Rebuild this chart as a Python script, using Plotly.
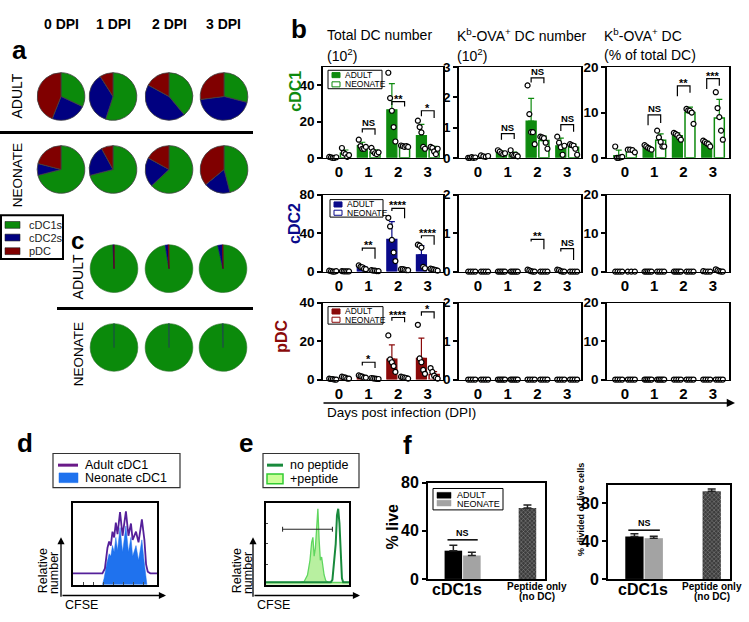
import plotly.graph_objects as go

W, H = 749, 622
FONT = "Liberation Sans, Arial, Helvetica, sans-serif"
GREEN = "#0e8a0e"
NAVY = "#0a0a8a"
MAROON = "#8a0a0a"

# ------------------------------------------------------------------ data
DPI = [0, 1, 2, 3]
DPI_HEADERS = ["0 DPI", "1 DPI", "2 DPI", "3 DPI"]
SUBSETS = ["cDC1s", "cDC2s", "pDC"]
SUBSET_COLORS = ["#0b8a0b", "#000080", "#800000"]

# panel a: share (%) of total DC  [cDC1s, cDC2s, pDC]
pie_a_adult = [[32, 24, 44], [55, 36, 9], [39, 44, 17], [29, 44, 27]]
pie_a_neonate = [[71, 8, 21], [71, 21, 8], [63, 20, 17], [46, 18, 36]]
# panel c: share (%) of Kb-OVA+ DC, 1-3 DPI
pie_c_adult = [[99.3, 0.7, 0.0], [97.5, 2.0, 0.5], [96.5, 3.2, 0.3]]
pie_c_neonate = [[100, 0, 0], [99.8, 0.2, 0], [99.5, 0.5, 0]]

# panel b -- cDC1
cdc1_total_adult = [0.3, 6.8, 26.5, 12.2]
cdc1_total_adult_sd = [0.3, 1.8, 14.5, 6.3]
cdc1_total_adult_pts = [[0.5, 0.2, 0, 0, 0.3], [10, 6.5, 5, 5, 6], [47, 33, 26, 17, 9], [20.5, 17, 14, 6, 5]]
cdc1_total_neo = [2.5, 3.2, 6.3, 4.5]
cdc1_total_neo_sd = [1.8, 1.2, 0.8, 1.8]
cdc1_total_neo_pts = [[5.4, 2.7, 2, 0.5, 1.5], [5.5, 3.5, 2.5, 2, 3], [6.8, 6.5, 6, 6.5, 6], [6, 5.5, 3.5, 2, 5]]
cdc1_total_sig = [[1, 16, 14, 12.7, "NS"], [2, 31, 29.2, 28.3, "**"], [3, 26, 23, 22, "*"]]

cdc1_kb_adult = [0.01, 0.17, 1.22, 0.40]
cdc1_kb_adult_sd = [0.01, 0.05, 0.75, 0.25]
cdc1_kb_adult_pts = [[0, 0, 0.02, 0, 0.01], [0.25, 0.2, 0.15, 0.12, 0.15], [2.4, 1.45, 0.85, 0.85, 0.45], [0.7, 0.5, 0.35, 0.1, 0.4]]
cdc1_kb_neo = [0.05, 0.12, 0.57, 0.35]
cdc1_kb_neo_sd = [0.03, 0.07, 0.15, 0.1]
cdc1_kb_neo_pts = [[0.08, 0.05, 0.03, 0.06], [0.25, 0.1, 0.08, 0.1, 0.05], [0.7, 0.68, 0.65, 0.5, 0.3], [0.45, 0.42, 0.4, 0.3, 0.1]]
cdc1_kb_sig = [[1, 0.8, 0.6, 0.62, "NS"], [2, 2.65, 2.5, 2.47, "NS"], [3, 1.1, 0.89, 0.86, "NS"]]

cdc1_pct_adult = [0.5, 2.2, 4.9, 3.2]
cdc1_pct_adult_sd = [1.2, 0.4, 0.6, 0.5]
cdc1_pct_adult_pts = [[2.5, 0, 0, 0.1, 0.2], [2.8, 2.5, 2.2, 2.0, 1.8], [5.5, 5.3, 5.0, 4.5, 4.0], [3.8, 3.5, 3.2, 3.0, 2.5]]
cdc1_pct_neo = [1.6, 3.9, 10.0, 8.8]
cdc1_pct_neo_sd = [0.3, 1.4, 1.2, 4.1]
cdc1_pct_neo_pts = [[1.8, 1.8, 1.7, 1.2], [6.0, 4.5, 3.5, 2.5, 2.5], [10.8, 10.5, 10.4, 10.0, 7.5], [14.5, 11, 9, 6, 4]]
cdc1_pct_sig = [[1, 9.5, 7.2, 7.7, "NS"], [2, 15.9, 13.6, 14.4, "**"], [3, 17.5, 15.2, 15.9, "***"]]

# panel b -- cDC2
cdc2_total_adult = [0.5, 4.4, 33.6, 17.5]
cdc2_total_adult_sd = [0.4, 1.5, 18.5, 9.5]
cdc2_total_adult_pts = [[1, 0.5, 0, 0, 0.5], [6.5, 5, 4.5, 3, 2.5], [56, 47, 33, 20, 11], [28, 27, 25, 5, 3.5]]
cdc2_total_neo = [0.3, 1.0, 2.0, 2.0]
cdc2_total_neo_sd = [0.2, 0.5, 0.5, 0.8]
cdc2_total_neo_pts = [[0.5, 0.3, 0.2, 0.2, 0.2], [1.5, 1, 1, 0.5, 0.5], [2.5, 2.5, 2, 1.5, 1.5], [3, 2.5, 2, 1.5, 1]]
cdc2_total_sig = [[1, 24.5, 21.8, 13.4, "**"], [2, 65.9, 63.2, 55.5, "****"], [3, 37.3, 34.6, 27.9, "****"]]

cdc2_kb_adult = [0.0, 0.0, 0.02, 0.02]
cdc2_kb_adult_sd = [0, 0, 0, 0]
cdc2_kb_adult_pts = [[0, 0, 0, 0], [0, 0, 0, 0, 0], [0.05, 0.03, 0.01, 0, 0], [0.05, 0.04, 0.01, 0, 0]]
cdc2_kb_neo = [0, 0, 0, 0]
cdc2_kb_neo_sd = [0, 0, 0, 0]
cdc2_kb_neo_pts = [[0, 0, 0, 0], [0, 0, 0, 0, 0], [0, 0, 0, 0], [0, 0, 0, 0]]
cdc2_kb_sig = [[2, 0.84, 0.78, 0.58, "**"], [3, 0.6, 0.52, 0.3, "NS"]]

cdc2_pct_adult = [0, 0, 0, 0]
cdc2_pct_adult_sd = [0, 0, 0, 0]
cdc2_pct_adult_pts = [[0, 0, 0, 0], [0, 0, 0, 0, 0], [0, 0, 0, 0, 0], [0.1, 0, 0, 0]]
cdc2_pct_neo = [0, 0, 0, 0.15]
cdc2_pct_neo_sd = [0, 0, 0, 0]
cdc2_pct_neo_pts = [[0, 0, 0], [0, 0, 0, 0], [0, 0, 0, 0], [0.6, 0.3, 0.1, 0, 0]]
cdc2_pct_sig = []

# panel b -- pDC
pdc_total_adult = [0.3, 1.5, 10.6, 11.0]
pdc_total_adult_sd = [0.3, 0.5, 7.5, 10.6]
pdc_total_adult_pts = [[0.5, 0.3, 0.2, 0, 0], [2.2, 1.8, 1.5, 1, 1], [23, 10.5, 9, 7, 4], [28.5, 11, 9, 5, 3]]
pdc_total_neo = [1.0, 0.5, 1.0, 2.6]
pdc_total_neo_sd = [0.4, 0.2, 0.3, 1.5]
pdc_total_neo_pts = [[1.5, 1.2, 1, 0.5, 0.5], [0.8, 0.6, 0.5, 0.4, 0.3], [1.5, 1.2, 1, 0.8, 0.5], [6, 4, 2, 1, 0.5]]
pdc_total_sig = [[1, 9.0, 7.3, 6.0, "*"], [2, 32.3, 30.6, 29.8, "****"], [3, 35.2, 33.2, 31.8, "*"]]

pdc_kb_adult = [0, 0, 0, 0]
pdc_kb_neo = [0, 0, 0, 0]
pdc_kb_adult_pts = [[0, 0, 0, 0], [0, 0, 0, 0, 0], [0, 0, 0, 0], [0, 0, 0, 0]]
pdc_kb_neo_pts = [[0, 0, 0, 0], [0, 0, 0, 0, 0], [0, 0, 0, 0], [0, 0, 0, 0]]
pdc_pct_adult = [0, 0, 0, 0]
pdc_pct_neo = [0, 0, 0, 0]
pdc_pct_adult_pts = [[0, 0, 0, 0], [0, 0, 0, 0, 0], [0, 0, 0, 0], [0, 0, 0, 0]]
pdc_pct_neo_pts = [[0, 0, 0, 0], [0, 0, 0, 0, 0], [0, 0, 0, 0], [0, 0, 0, 0]]
zero_sd = [0, 0, 0, 0]

# panel d: CFSE histograms (x and y in % of the plot frame)
d_adult_x = [0, 35, 38, 41, 43, 45, 47, 49, 51, 53, 56, 59, 63, 66, 69, 71, 75, 78, 82, 85, 87, 89, 92, 100]
d_adult_y = [14, 14, 20, 45, 53, 48, 65, 58, 76, 62, 89, 60, 90, 60, 75, 55, 65, 52, 80, 55, 25, 16, 14, 14]
d_neo_x = [35, 37, 40, 43, 45, 47, 49, 51, 53, 56, 59, 63, 66, 69, 71, 75, 78, 82, 84, 86, 88]
d_neo_y = [0, 8, 25, 38, 35, 48, 40, 58, 42, 70, 40, 72, 40, 58, 35, 48, 30, 55, 35, 20, 0]

# panel e
e_nopep_x = [0, 78, 80, 82, 84, 85.5, 87, 88.5, 90, 91.5, 93, 100]
e_nopep_y = [3, 3, 6, 25, 50, 85, 93, 75, 35, 8, 3, 3]
e_pep_x = [0, 40, 46, 50, 53, 55, 56.5, 58, 59.5, 61, 62.5, 64, 65.5, 67, 68.5, 70, 72, 75, 100]
e_pep_y = [3, 3, 4, 12, 30, 52, 58, 35, 45, 75, 93, 55, 30, 34, 22, 12, 5, 3, 3]
e_gate = [20, 80]
e_gate_level = 68

# panel f
f_live = [23.5, 19.5, 59.0]
f_live_sd = [4.5, 2.7, 2.5]
f_divided = [45.0, 43.2, 93.0]
f_divided_sd = [2.8, 2.0, 2.3]

# ------------------------------------------------------------------ helpers
fig = go.Figure()
layout = {}
annotations = []
shapes = []


def fx(x):
    return x / W


def fy(y):
    return 1 - y / H


axis_count = [0]


def new_axes(box, xr, yr, xkw=None, ykw=None):
    axis_count[0] += 1
    n = axis_count[0]
    s = "" if n == 1 else str(n)
    x0, y0, x1, y1 = box
    xa = dict(domain=[fx(x0), fx(x1)], range=xr, anchor="y" + s, showgrid=False,
              zeroline=False, fixedrange=True)
    ya = dict(domain=[fy(y1), fy(y0)], range=yr, anchor="x" + s, showgrid=False,
              zeroline=False, fixedrange=True)
    xa.update(xkw or {})
    ya.update(ykw or {})
    layout["xaxis" + s] = xa
    layout["yaxis" + s] = ya
    return "x" + s, "y" + s


def text(x, y, s, size, color="black", angle=0, xanchor="center", yanchor="middle"):
    annotations.append(dict(x=fx(x), y=fy(y), xref="paper", yref="paper", text=s,
                            showarrow=False, textangle=angle, xanchor=xanchor,
                            yanchor=yanchor, font=dict(family=FONT, size=size, color=color)))


def rect(x0, y0, x1, y1, fill="rgba(0,0,0,0)", line="black", lw=1.0):
    shapes.append(dict(type="rect", xref="paper", yref="paper", x0=fx(x0), x1=fx(x1),
                       y0=fy(y1), y1=fy(y0), fillcolor=fill,
                       line=dict(color=line, width=lw), layer="above"))


def seg(x0, y0, x1, y1, lw=1.0, color="black"):
    shapes.append(dict(type="line", xref="paper", yref="paper", x0=fx(x0), x1=fx(x1),
                       y0=fy(y0), y1=fy(y1), line=dict(color=color, width=lw), layer="above"))


def arrow(xh, yh, xt, yt, lw=1.5):
    annotations.append(dict(x=fx(xh), y=fy(yh), xref="paper", yref="paper",
                            ax=xt - xh, ay=yt - yh, axref="pixel", ayref="pixel",
                            showarrow=True, arrowhead=2, arrowsize=1.1, arrowwidth=lw,
                            arrowcolor="black", text=""))


# ------------------------------------------------------------------ panel a / c pies
def pie(values, cx, cy, r=24.5, line_colors=None, lw=0.8):
    fig.add_trace(go.Pie(values=values, labels=SUBSETS, sort=False, direction="clockwise",
                         rotation=0, textinfo="none", hoverinfo="label+percent",
                         showlegend=False,
                         marker=dict(colors=SUBSET_COLORS,
                                     line=dict(color=line_colors or "#404040", width=lw)),
                         domain=dict(x=[fx(cx - r), fx(cx + r)], y=[fy(cy + r), fy(cy - r)])))


a_cx = [61, 113, 169, 224]
for i in range(4):
    pie(pie_a_adult[i], a_cx[i], 91)
    pie(pie_a_neonate[i], a_cx[i], 166)
    text(a_cx[i], 16, "<b>%s</b>" % DPI_HEADERS[i], 14)
c_cx = [114, 169, 223]
C_LINES = ["#2f6f2f", "#000080", "#800000"]
for i in range(3):
    pie(pie_c_adult[i], c_cx[i], 268, line_colors=C_LINES, lw=0.6)
    pie(pie_c_neonate[i], c_cx[i], 349, line_colors=["#2f6f2f", "#1a5a3a", "#1a5a3a"], lw=0.6)

text(19, 43, "<b>a</b>", 26)
text(17, 91, "ADULT", 14, angle=-90)
text(17, 172, "NEONATE", 13.5, angle=-90)
seg(0, 128, 253, 128, lw=3)
text(77, 239, "<b>c</b>", 24)
text(78, 277, "ADULT", 14, angle=-90)
text(78, 356, "NEONATE", 13.5, angle=-90)
seg(57, 309, 253, 309, lw=3)

# pie legend
rect(1, 213, 63, 258, lw=2)
for k, yy in enumerate([223, 236, 250]):
    rect(5, yy - 3.5, 20, yy + 3.5, fill=SUBSET_COLORS[k], line="#202020", lw=0.6)
    text(27, yy, SUBSETS[k], 11, color="#222", xanchor="left")

# ------------------------------------------------------------------ panel b
COL_X = [(323, 443), (459, 581), (607, 729)]
COL_XR = [[-0.54, 3.52], [-0.64, 3.47], [-0.61, 3.55]]
ROW_Y = [(61, 154), (192, 271), (303, 382)]
ROW_COLORS = [GREEN, NAVY, MAROON]

CELLS = [
    (0, 0, cdc1_total_adult, cdc1_total_adult_sd, cdc1_total_adult_pts, cdc1_total_neo, cdc1_total_neo_sd, cdc1_total_neo_pts, cdc1_total_sig, [0, 50], [0, 20, 40]),
    (0, 1, cdc1_kb_adult, cdc1_kb_adult_sd, cdc1_kb_adult_pts, cdc1_kb_neo, cdc1_kb_neo_sd, cdc1_kb_neo_pts, cdc1_kb_sig, [0, 3], [0, 1, 2, 3]),
    (0, 2, cdc1_pct_adult, cdc1_pct_adult_sd, cdc1_pct_adult_pts, cdc1_pct_neo, cdc1_pct_neo_sd, cdc1_pct_neo_pts, cdc1_pct_sig, [0, 20], [0, 10, 20]),
    (1, 0, cdc2_total_adult, cdc2_total_adult_sd, cdc2_total_adult_pts, cdc2_total_neo, cdc2_total_neo_sd, cdc2_total_neo_pts, cdc2_total_sig, [0, 80], [0, 40, 80]),
    (1, 1, cdc2_kb_adult, cdc2_kb_adult_sd, cdc2_kb_adult_pts, cdc2_kb_neo, cdc2_kb_neo_sd, cdc2_kb_neo_pts, cdc2_kb_sig, [0, 2], [0, 1, 2]),
    (1, 2, cdc2_pct_adult, cdc2_pct_adult_sd, cdc2_pct_adult_pts, cdc2_pct_neo, cdc2_pct_neo_sd, cdc2_pct_neo_pts, cdc2_pct_sig, [0, 20], [0, 10, 20]),
    (2, 0, pdc_total_adult, pdc_total_adult_sd, pdc_total_adult_pts, pdc_total_neo, pdc_total_neo_sd, pdc_total_neo_pts, pdc_total_sig, [0, 40], [0, 20, 40]),
    (2, 1, pdc_kb_adult, zero_sd, pdc_kb_adult_pts, pdc_kb_neo, zero_sd, pdc_kb_neo_pts, [], [0, 2], [0, 1, 2]),
    (2, 2, pdc_pct_adult, zero_sd, pdc_pct_adult_pts, pdc_pct_neo, zero_sd, pdc_pct_neo_pts, [], [0, 20], [0, 10, 20]),
]

A_OFF, N_OFF, BAR_W = -0.21, 0.22, 0.34


def spread(k):
    if k == 1:
        return [0.0]
    return [-0.12 + 0.24 * i / (k - 1) for i in range(k)]


for (r, c, am, asd, apts, nm, nsd, npts, sig, yr, yt) in CELLS:
    col = ROW_COLORS[r]
    xa, ya = new_axes((COL_X[c][0], ROW_Y[r][0], COL_X[c][1], ROW_Y[r][1]), COL_XR[c], yr,
                      xkw=dict(showline=True, linecolor="black", linewidth=1.2, mirror=True,
                               tickvals=DPI, ticktext=[str(d) for d in DPI], ticks="",
                               tickfont=dict(family=FONT, size=15, color="black", weight="bold")),
                      ykw=dict(showline=True, linecolor="black", linewidth=1.5, mirror=True,
                               tickvals=yt, ticks="outside", ticklen=4, tickwidth=1.5,
                               tickcolor="black",
                               tickfont=dict(family=FONT, size=13.5, color="black", weight="bold")))
    fig.add_trace(go.Bar(x=[g + A_OFF for g in DPI], y=am, width=BAR_W, xaxis=xa, yaxis=ya,
                         marker=dict(color=col, line=dict(color=col, width=1.2)),
                         error_y=dict(type="data", array=asd, arrayminus=[0] * 4, symmetric=False,
                                      color=col, thickness=1.2, width=3, visible=any(v > 0 for v in asd)),
                         showlegend=False))
    fig.add_trace(go.Bar(x=[g + N_OFF for g in DPI], y=nm, width=BAR_W, xaxis=xa, yaxis=ya,
                         marker=dict(color="white", line=dict(color=col, width=1.5)),
                         error_y=dict(type="data", array=nsd, arrayminus=[0] * 4, symmetric=False,
                                      color=col, thickness=1.2, width=3, visible=any(v > 0 for v in nsd)),
                         showlegend=False))
    for pts, off in ((apts, A_OFF), (npts, N_OFF)):
        px, py = [], []
        for g, vals in zip(DPI, pts):
            for o, v in zip(spread(len(vals)), vals):
                px.append(g + off + o)
                py.append(v)
        fig.add_trace(go.Scatter(x=px, y=py, mode="markers", xaxis=xa, yaxis=ya, cliponaxis=False,
                                 marker=dict(symbol="circle", size=5, color="white",
                                             line=dict(color="black", width=1.2)),
                                 showlegend=False))
    for (g, top, lft, rgt, lab) in sig:
        fig.add_trace(go.Scatter(x=[g + A_OFF, g + A_OFF, g + N_OFF, g + N_OFF],
                                 y=[lft, top, top, rgt], mode="lines", xaxis=xa, yaxis=ya,
                                 cliponaxis=False, line=dict(color="black", width=1.2),
                                 showlegend=False))
        star = lab != "NS"
        annotations.append(dict(x=g + (A_OFF + N_OFF) / 2, y=top, xref=xa, yref=ya,
                                text="<b>%s</b>" % lab, showarrow=False, yanchor="bottom",
                                yshift=-5 if star else -1,
                                font=dict(family=FONT, size=11 if star else 9.5, color="black")))

# b legends
LEG_BOX = [(328, 64, 382, 83), (330, 197, 383, 215), (328, 307, 383, 325)]
for r in range(3):
    x0, y0, x1, y1 = LEG_BOX[r]
    col = ROW_COLORS[r]
    rect(x0, y0, x1, y1, lw=1)
    ya_ = y0 + 5
    yn_ = y1 - 4.5
    rect(x0 + 4, ya_ - 2.6, x0 + 12, ya_ + 2.6, fill=col, line=col, lw=1)
    rect(x0 + 4, yn_ - 2.6, x0 + 12, yn_ + 2.6, fill="white", line=col, lw=1)
    text(x0 + 15, ya_, "ADULT", 8.5, xanchor="left")
    text(x0 + 15, yn_, "NEONATE", 8.5, xanchor="left")

text(299, 22, "<b>b</b>", 26)
text(325, 28, "Total DC number", 14, xanchor="left")
text(325, 48, "(10<sup>2</sup>)", 14, xanchor="left")
text(455, 28, "K<sup>b</sup>-OVA<sup>+</sup> DC number", 14, xanchor="left")
text(455, 48, "(10<sup>2</sup>)", 14, xanchor="left")
text(602, 28, "K<sup>b</sup>-OVA<sup>+</sup> DC", 14, xanchor="left")
text(602, 48, "(% of total DC)", 14, xanchor="left")
text(296, 86, "<b>cDC1</b>", 16, color=GREEN, angle=-90)
text(295, 222, "<b>cDC2</b>", 16, color=NAVY, angle=-90)
text(282, 338, "<b>pDC</b>", 16, color=MAROON, angle=-90)
arrow(735, 406, 322, 406, lw=1.5)
text(325, 416, "Days post infection (DPI)", 13.5, xanchor="left")

# ------------------------------------------------------------------ panel d
frame = dict(showline=True, linecolor="black", linewidth=2, mirror=True)
xd, yd = new_axes((73, 509, 157, 593), [0, 100], [0, 100],
                  xkw=dict(frame, showticklabels=False, ticks="inside", ticklen=2.5, tickwidth=1,
                           tickvals=[12, 24, 36, 48, 60, 72, 84]),
                  ykw=dict(frame, showticklabels=False, ticks=""))
fig.add_trace(go.Scatter(x=d_neo_x, y=d_neo_y, xaxis=xd, yaxis=yd, mode="lines", fill="tozeroy",
                         fillcolor="#1f72ee", line=dict(color="#1f72ee", width=0.5), showlegend=False))
fig.add_trace(go.Scatter(x=d_adult_x, y=d_adult_y, xaxis=xd, yaxis=yd, mode="lines",
                         line=dict(color="#55209a", width=1.8), showlegend=False))
text(25, 447, "<b>d</b>", 26)
rect(53, 458, 180, 493, line="#333", lw=1.2)
seg(58, 470, 78, 470, lw=3, color="#6a1a88")
rect(59, 478, 78, 488, fill="#1f72ee", line="#1f72ee", lw=0.5)
text(83, 470, "Adult cDC1", 12.5, xanchor="left")
text(83, 483, "Neonate cDC1", 12.5, xanchor="left")
arrow(61, 544, 61, 605, lw=1.3)
arrow(166, 604, 61, 604, lw=1.3)
text(43, 579, "Relative", 12.5, angle=-90)
text(54, 581, "number", 12.5, angle=-90)
text(63, 614, "CFSE", 12.5, xanchor="left")

# ------------------------------------------------------------------ panel e
xe, ye = new_axes((266, 509, 349, 593), [0, 100], [0, 100],
                  xkw=dict(frame, showticklabels=False, ticks=""),
                  ykw=dict(frame, showticklabels=False, ticks="inside", ticklen=2, tickwidth=1,
                           tickvals=[25, 50, 75]))
fig.add_trace(go.Scatter(x=e_pep_x, y=e_pep_y, xaxis=xe, yaxis=ye, mode="lines", fill="tozeroy",
                         fillcolor="#b8f0a0", line=dict(color="#5fd65f", width=1.3), showlegend=False))
fig.add_trace(go.Scatter(x=e_nopep_x, y=e_nopep_y, xaxis=xe, yaxis=ye, mode="lines",
                         line=dict(color="#188a3c", width=2), showlegend=False))
fig.add_trace(go.Scatter(x=[e_gate[0], e_gate[0], None, e_gate[0], e_gate[1], None, e_gate[1], e_gate[1]],
                         y=[e_gate_level - 3, e_gate_level + 3, None, e_gate_level, e_gate_level, None,
                            e_gate_level - 3, e_gate_level + 3],
                         xaxis=xe, yaxis=ye, mode="lines", line=dict(color="#222", width=1),
                         showlegend=False))
text(246, 447, "<b>e</b>", 26)
rect(263, 458, 359, 493, line="#333", lw=1.2)
seg(267, 470, 283, 470, lw=3, color="#188a3c")
rect(267, 479, 283, 489, fill="#ccff99", line="#33cc33", lw=1.5)
text(288, 470, "no peptide", 12.5, xanchor="left")
text(288, 484, "+peptide", 12.5, xanchor="left")
arrow(253, 544, 253, 605, lw=1.3)
arrow(360, 604, 253, 604, lw=1.3)
text(237, 579, "Relative", 12.5, angle=-90)
text(248, 581, "number", 12.5, angle=-90)
text(255, 614, "CFSE", 12.5, xanchor="left")

# ------------------------------------------------------------------ panel f
F_POS = [1.3, 2.25, 5.1]
F_W = 0.9
F_COLORS = ["#000000", "#a3a3a3", "#3c3c3c"]
fframe = dict(showline=True, linecolor="black", linewidth=2, mirror=True)


def f_panel(box, vals, sds, yr, ns_y):
    xa, ya = new_axes(box, [0, 6], yr,
                      xkw=dict(fframe, showticklabels=False, ticks=""),
                      ykw=dict(fframe, tickvals=[0, 40, 80], ticks="outside", ticklen=4, tickwidth=2,
                               tickcolor="black",
                               tickfont=dict(family=FONT, size=16, color="black", weight="bold")))
    fig.add_trace(go.Bar(x=F_POS, y=vals, width=F_W, xaxis=xa, yaxis=ya,
                         marker=dict(color=F_COLORS, line=dict(width=0),
                                     pattern=dict(shape=["", "", "x"], fgcolor="#6a6a6a", size=3, solidity=0.25)),
                         error_y=dict(type="data", array=sds, arrayminus=[0, 0, 0], symmetric=False,
                                      color="#222", thickness=1.5, width=4),
                         showlegend=False))
    fig.add_trace(go.Scatter(x=[F_POS[0] - 0.3, F_POS[1] + 0.3], y=[ns_y, ns_y], xaxis=xa, yaxis=ya,
                             mode="lines", line=dict(color="black", width=1.5), showlegend=False))
    annotations.append(dict(x=(F_POS[0] + F_POS[1]) / 2, y=ns_y, xref=xa, yref=ya, text="<b>NS</b>",
                            showarrow=False, yanchor="bottom", yshift=0,
                            font=dict(family=FONT, size=9, color="black")))


f_panel((428, 488, 545, 587), f_live, f_live_sd, [0, 80], 32.5)
f_panel((608, 490, 730, 587), f_divided, f_divided_sd, [0, 100], 51.7)
text(407, 449, "<b>f</b>", 26)
rect(433, 494, 503, 516, lw=1)
rect(437, 498, 451, 504, fill="#000000", line="#000000", lw=0.5)
rect(437, 506, 451, 512, fill="#a3a3a3", line="#a3a3a3", lw=0.5)
text(455, 500.5, "ADULT", 9, xanchor="left")
text(455, 509.5, "NEONATE", 9, xanchor="left")
text(392, 533, "<b>% live</b>", 16, angle=-90)
text(581, 516, "<b>% divided of live cells</b>", 9, angle=-90)
text(457, 598, "<b>cDC1s</b>", 16)
text(537, 595, "<b>Peptide only</b>", 10)
text(537, 605, "<b>(no DC)</b>", 10)
text(643, 598, "<b>cDC1s</b>", 16)
text(712, 595, "<b>Peptide only</b>", 10)
text(712, 605, "<b>(no DC)</b>", 10)

layout.update(dict(width=W, height=H, margin=dict(l=0, r=0, t=0, b=0), showlegend=False,
                   paper_bgcolor="white", plot_bgcolor="rgba(0,0,0,0)", barmode="overlay",
                   font=dict(family=FONT, color="black"),
                   annotations=annotations, shapes=shapes))
fig.update_layout(layout)
fig.write_html("out.html", config={"displayModeBar": False},
               post_script="document.body.style.margin='0px';document.body.style.overflow='hidden';")
